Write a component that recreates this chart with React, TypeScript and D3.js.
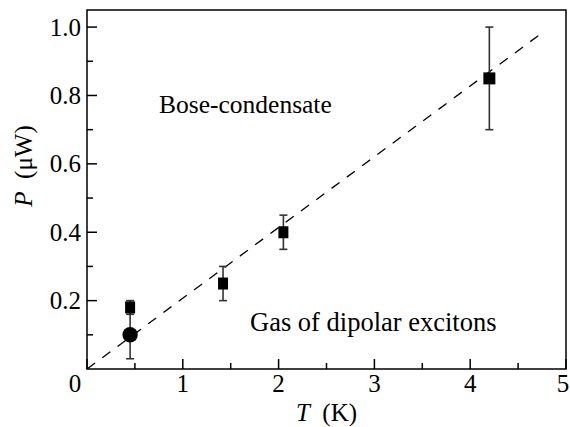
import React from "react";
import * as d3 from "d3";

const sqT = [0.45, 1.42, 2.05, 4.2];
const sqP = [0.18, 0.25, 0.4, 0.85];
const sqLo = [0.16, 0.2, 0.35, 0.7];
const sqHi = [0.2, 0.3, 0.45, 1.0];

const circT = [0.45];
const circP = [0.1];
const circLo = [0.03];
const circHi = [0.17];

const lineT = [0, 4.75];
const lineP = [0, 0.983];

const xMajor = [0, 1, 2, 3, 4, 5];
const xMinor = [0.5, 1.5, 2.5, 3.5, 4.5];
const yMajor = [0.2, 0.4, 0.6, 0.8, 1.0];
const yMinor = [0.1, 0.3, 0.5, 0.7, 0.9];

const W = 570;
const H = 427;
const L = 87, R = 566, T = 10, B = 369;
const FAM = "Liberation Serif";

export default function App() {
  const x = d3.scaleLinear().domain([0, 5]).range([L, R]);
  const y = d3.scaleLinear().domain([0, 1.05]).range([B, T]);
  const line = d3.line<number>().x((d, i) => x(lineT[i])).y((d, i) => y(lineP[i]));
  const cap = 4;
  return (
    <svg width={W} height={H} style={{ position: "absolute", left: 0, top: 0 }}>
      <style>{`text { font-family: "Liberation Serif", Tinos, "Times New Roman", "DejaVu Serif", serif; }`}</style>
      <rect x={L} y={T} width={R - L} height={B - T} fill="none" stroke="#000" strokeWidth={1.5} />
      {xMajor.map((v) => (
        <line key={"xM" + v} x1={x(v)} x2={x(v)} y1={B} y2={B - 10} stroke="#000" strokeWidth={1.5} />
      ))}
      {xMinor.map((v) => (
        <line key={"xm" + v} x1={x(v)} x2={x(v)} y1={B} y2={B - 6} stroke="#000" strokeWidth={1.5} />
      ))}
      {yMajor.map((v) => (
        <line key={"yM" + v} x1={L} x2={L + 10} y1={y(v)} y2={y(v)} stroke="#000" strokeWidth={1.5} />
      ))}
      {yMinor.map((v) => (
        <line key={"ym" + v} x1={L} x2={L + 6} y1={y(v)} y2={y(v)} stroke="#000" strokeWidth={1.5} />
      ))}
      {xMajor.map((v) => (
        <text key={"xl" + v} fontSize={25} style={{ fontFamily: FAM }} x={v === 0 ? x(v) - 12 : v === 5 ? x(v) - 3 : x(v)} y={392} textAnchor="middle">
          {d3.format("d")(v)}
        </text>
      ))}
      {yMajor.map((v) => (
        <text key={"yl" + v} fontSize={25} style={{ fontFamily: FAM }} x={81} y={y(v) + 8.5} textAnchor="end">
          {d3.format(".1f")(v)}
        </text>
      ))}
      <text fontSize={25} style={{ fontFamily: FAM }} x={(L + R) / 2} y={421} textAnchor="middle">
        <tspan fontStyle="italic">T</tspan>
        <tspan>{"\u00a0 (K)"}</tspan>
      </text>
      <text fontSize={25} style={{ fontFamily: FAM }} transform={`translate(32,166) rotate(-90)`} textAnchor="middle">
        <tspan fontStyle="italic">P</tspan>
        <tspan>{"\u00a0 (\u03bcW)"}</tspan>
      </text>
      <text fontSize={25.5} style={{ fontFamily: FAM }} x={159} y={113}>Bose-condensate</text>
      <text fontSize={26.5} style={{ fontFamily: FAM }} x={250} y={331}>Gas of dipolar excitons</text>
      <path d={line(lineT) || ""} fill="none" stroke="#000" strokeWidth={1.3} strokeDasharray="10,9" />
      {circT.map((t, i) => (
        <g key={"ce" + i} stroke="#333" strokeWidth={1.6}>
          <line x1={x(t)} x2={x(t)} y1={y(circLo[i])} y2={y(circHi[i])} />
          <line x1={x(t) - cap} x2={x(t) + cap} y1={y(circLo[i])} y2={y(circLo[i])} />
        </g>
      ))}
      {sqT.map((t, i) => (
        <g key={"se" + i} stroke="#333" strokeWidth={1.6}>
          <line x1={x(t)} x2={x(t)} y1={y(sqLo[i])} y2={y(sqHi[i])} />
          <line x1={x(t) - cap} x2={x(t) + cap} y1={y(sqLo[i])} y2={y(sqLo[i])} />
          <line x1={x(t) - cap} x2={x(t) + cap} y1={y(sqHi[i])} y2={y(sqHi[i])} />
        </g>
      ))}
      {circT.map((t, i) => (
        <circle key={"c" + i} cx={x(t)} cy={y(circP[i])} r={7.7} fill="#000" />
      ))}
      {sqT.map((t, i) => (
        <rect key={"s" + i} x={x(t) - (i === 3 ? 6 : 5)} y={y(sqP[i]) - 6} width={i === 3 ? 12 : 10} height={12} fill="#000" />
      ))}
    </svg>
  );
}
